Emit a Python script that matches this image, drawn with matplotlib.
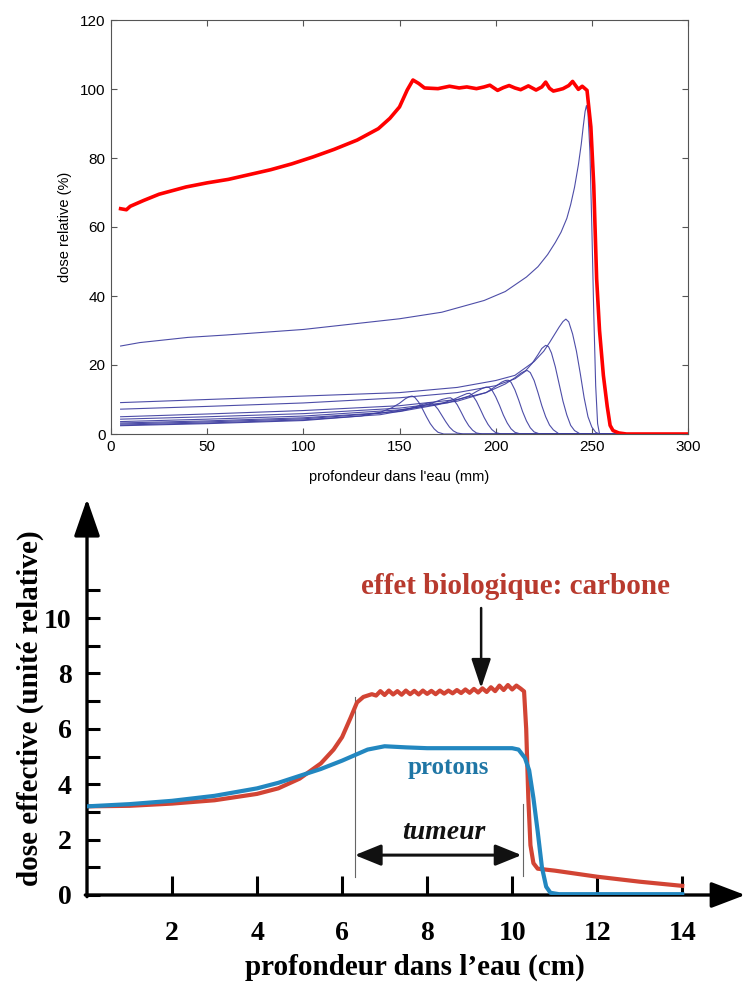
import numpy as np
import matplotlib.pyplot as plt

# ---- donnees : graphe du haut (SOBP protons, mm / %) ----
sobp_x = [5, 8, 10, 17, 25, 39, 50, 61, 72, 83, 94, 105, 116, 128, 139, 145, 150, 154, 157, 160, 163,
          170, 176, 181, 185, 190, 194, 197, 201, 204, 207, 210, 213, 217, 221, 224, 226, 228, 230,
          233, 235, 238, 240, 243, 245, 247.5, 249.5, 251, 252.5, 254, 256, 258, 259.5, 261, 264, 268, 300]
sobp_y = [65.3, 65.0, 66.0, 67.7, 69.5, 71.6, 72.8, 73.8, 75.2, 76.6, 78.3, 80.3, 82.5, 85.2, 88.5, 91.5,
          94.8, 99.7, 102.6, 101.6, 100.3, 100.1, 100.8, 100.3, 100.6, 100.1, 100.6, 101.1, 99.6, 100.4,
          101.0, 100.3, 99.8, 100.9, 99.7, 100.6, 102.0, 100.2, 99.4, 99.8, 100.1, 101.0, 102.2, 99.9,
          100.8, 99.6, 89.0, 72.0, 45.0, 30.0, 17.0, 8.0, 2.5, 1.0, 0.3, 0.0, 0.0]

# pics de Bragg individuels (profondeur, dose)
bragg_x = [
    [5, 15, 40, 60, 100, 150, 172, 194, 205, 216, 222, 227, 231, 234, 237, 239, 241, 243, 244.5,
     245.5, 246.5, 247.2, 248, 249, 250, 251, 252, 253, 254, 300],
    [5, 50, 100, 150, 180, 200, 210, 220, 225, 228, 231, 233, 235, 236.5, 238, 240, 242, 244, 246,
     248, 250, 252, 254, 300],
    [5, 50, 100, 150, 180, 200, 210, 215, 219, 222, 224, 226, 227.5, 229, 231, 233, 235, 237, 239,
     241, 244, 300],
    [5, 50, 100, 150, 180, 195, 205, 210, 213, 215, 216.5, 218, 220, 222, 224, 226, 228, 230, 233, 300],
    [5, 50, 100, 150, 180, 195, 200, 203, 205, 206.5, 208, 210, 212, 214, 216, 218, 220, 223, 300],
    [5, 50, 100, 150, 175, 186, 190, 193, 195, 196.5, 198, 200, 202, 204, 206, 208, 210, 213, 300],
    [5, 50, 100, 150, 170, 178, 182, 185, 186.5, 188, 190, 192, 194, 196, 198, 200, 203, 300],
    [5, 50, 100, 140, 160, 168, 172, 175, 176.5, 178, 180, 182, 184, 186, 188, 190, 193, 300],
    [5, 50, 100, 140, 152, 158, 162, 165, 166.5, 168, 170, 172, 174, 176, 178, 180, 183, 300],
    [5, 50, 100, 130, 140, 146, 150, 153, 155, 156.5, 158, 160, 162, 164, 166, 168, 170, 173, 300],
]
bragg_y = [
    [25.5, 26.5, 28.0, 28.7, 30.3, 33.4, 35.3, 38.7, 41.3, 45.5, 48.5, 52.0, 55.5, 58.5, 62.5, 66.5,
     71.5, 78.0, 84.0, 89.0, 93.5, 95.2, 93.0, 82.0, 60.0, 35.0, 14.0, 3.0, 0.0, 0.0],
    [9.1, 10.0, 11.0, 12.0, 13.5, 15.5, 17.0, 21.0, 24.0, 26.5, 29.2, 31.0, 32.6, 33.3, 32.5, 29.0,
     24.0, 17.5, 10.5, 5.0, 2.0, 0.5, 0.0, 0.0],
    [7.2, 8.0, 9.0, 10.5, 12.0, 14.0, 16.0, 18.0, 20.5, 23.0, 24.8, 25.7, 25.3, 23.5, 19.5, 14.5,
     9.5, 5.5, 2.5, 1.0, 0.0, 0.0],
    [5.0, 5.8, 6.8, 8.2, 10.0, 12.0, 14.5, 16.3, 17.6, 18.2, 18.4, 17.8, 15.5, 12.0, 8.2, 5.0, 2.6,
     1.2, 0.0, 0.0],
    [4.3, 5.0, 5.9, 7.5, 9.5, 12.0, 13.8, 15.0, 15.5, 15.6, 15.0, 12.8, 9.8, 6.5, 3.8, 1.8, 0.6,
     0.0, 0.0],
    [3.6, 4.3, 5.2, 7.0, 9.0, 11.0, 12.3, 13.2, 13.6, 13.5, 12.8, 10.8, 8.3, 5.5, 3.2, 1.5, 0.5,
     0.0, 0.0],
    [3.2, 3.8, 4.7, 6.5, 8.5, 10.0, 11.0, 11.7, 11.8, 11.2, 9.5, 7.2, 4.8, 2.8, 1.3, 0.4, 0.0, 0.0],
    [2.9, 3.5, 4.4, 6.0, 7.8, 9.2, 10.0, 10.4, 10.5, 10.0, 8.5, 6.4, 4.2, 2.4, 1.1, 0.3, 0.0, 0.0],
    [2.6, 3.2, 4.1, 5.6, 6.8, 7.8, 8.6, 9.0, 9.0, 8.5, 7.2, 5.4, 3.6, 2.0, 0.9, 0.3, 0.0, 0.0],
    [2.4, 3.0, 3.9, 5.2, 6.3, 7.6, 8.9, 10.2, 10.8, 11.0, 10.6, 9.2, 7.2, 5.0, 3.0, 1.5, 0.5, 0.0, 0.0],
]

# ---- donnees : graphe du bas (dose effective, cm) ----
carbone_x = [0, 1, 2, 3, 4, 4.5, 5, 5.5, 5.8, 6.0, 6.2, 6.35, 6.5, 6.7,
             6.8, 6.9, 7.0, 7.1, 7.2, 7.3, 7.4, 7.5, 7.6, 7.7, 7.8, 7.9, 8.0, 8.1, 8.2, 8.3,
             8.4, 8.5, 8.6, 8.7, 8.8, 8.9, 9.0, 9.1, 9.2, 9.3, 9.4, 9.5, 9.6, 9.7, 9.8, 9.9,
             10.0, 10.1, 10.2, 10.28, 10.33, 10.38, 10.43, 10.5, 10.6, 11, 12, 13, 14]
carbone_y = [3.2, 3.22, 3.3, 3.42, 3.65, 3.85, 4.2, 4.75, 5.25, 5.7, 6.4, 6.95, 7.15, 7.25,
             7.2, 7.36, 7.22, 7.38, 7.24, 7.36, 7.23, 7.38, 7.25, 7.37, 7.24, 7.38, 7.26, 7.37, 7.25, 7.38,
             7.27, 7.38, 7.28, 7.4, 7.29, 7.42, 7.3, 7.44, 7.31, 7.46, 7.33, 7.5, 7.36, 7.56, 7.4, 7.58,
             7.42, 7.56, 7.45, 7.35, 6.0, 3.5, 1.8, 1.15, 0.95, 0.88, 0.66, 0.48, 0.33]
protons_x = [0, 1, 2, 3, 4, 4.5, 5, 5.5, 6, 6.3, 6.6, 7, 7.5, 8, 9, 10, 10.15, 10.3, 10.4,
             10.5, 10.6, 10.7, 10.8, 10.9, 11.1, 14]
protons_y = [3.2, 3.28, 3.4, 3.58, 3.85, 4.05, 4.3, 4.55, 4.85, 5.05, 5.25, 5.37, 5.33, 5.3, 5.3,
             5.3, 5.25, 4.95, 4.5, 3.5, 2.3, 1.0, 0.3, 0.08, 0.03, 0.03]

fig = plt.figure(figsize=(7.46, 9.85), dpi=100)

# ----------------- graphe du haut -----------------
ax1 = fig.add_axes([111 / 746, 1 - 434 / 985, 577 / 746, 414 / 985])
for bx, by in zip(bragg_x, bragg_y):
    ax1.plot(bx, by, color='#3a3a9e', lw=0.8, alpha=0.9)
ax1.plot(sobp_x, sobp_y, color='#ff0000', lw=2.6)
ax1.set_xlim(0, 300)
ax1.set_ylim(0, 120)
ax1.set_xticks(range(0, 301, 50))
ax1.set_yticks(range(0, 121, 20))
ax1.tick_params(direction='in', top=True, right=True, length=4, width=0.8,
                labelsize=11, color='#555555', pad=4)
for lab in ax1.get_xticklabels() + ax1.get_yticklabels():
    lab.set_family('Liberation Sans')
for s in ax1.spines.values():
    s.set_color('#555555')
    s.set_linewidth(0.8)
ax1.set_xlabel("profondeur dans l'eau (mm)", family='Liberation Sans', fontsize=10.5, labelpad=12)
ax1.set_ylabel('dose relative (%)', family='Liberation Sans', fontsize=10.5, labelpad=6)

# ----------------- graphe du bas -----------------
serif = 'Liberation Serif'
ax2 = fig.add_axes([87 / 746, 1 - 895 / 985, (746 - 87) / 746, 395 / 985])
ax2.set_xlim(0, 15.5)
ax2.set_ylim(0, 14.26)
for s in ax2.spines.values():
    s.set_visible(False)

ax2.plot(carbone_x, carbone_y, color='#d24434', lw=3.0, zorder=3)
ax2.plot(protons_x, protons_y, color='#2287c0', lw=3.0, zorder=4)

# axes fleches
ax2.annotate('', xy=(0, 14.3), xytext=(0, -0.06), annotation_clip=False,
             arrowprops=dict(arrowstyle='-|>,head_length=2.3,head_width=0.8', lw=2.4,
                             color='black', shrinkA=0, shrinkB=0))
ax2.annotate('', xy=(15.48, 0), xytext=(-0.04, 0), annotation_clip=False,
             arrowprops=dict(arrowstyle='-|>,head_length=2.1,head_width=0.8', lw=2.4,
                             color='black', shrinkA=0, shrinkB=0))

ax2.set_yticks(range(0, 12))
ax2.set_yticklabels([str(v) if v % 2 == 0 else '' for v in range(0, 12)])
ax2.set_xticks(range(2, 15, 2))
ax2.tick_params(axis='y', direction='in', length=9.5, width=2.2, pad=11, labelsize=20)
ax2.tick_params(axis='x', direction='in', length=14, width=2.2, pad=19, labelsize=20)
for lab in ax2.get_xticklabels() + ax2.get_yticklabels():
    lab.set_family(serif)
    lab.set_weight('bold')

# limites de la tumeur
ax2.plot([6.3, 6.3], [0.65, 7.15], color='#666666', lw=0.8, zorder=2)
ax2.plot([10.25, 10.25], [0.7, 3.3], color='#666666', lw=0.8, zorder=2)
ax2.annotate('', xy=(6.3, 1.44), xytext=(10.22, 1.44),
             arrowprops=dict(arrowstyle='<|-|>,head_length=1.6,head_width=0.65', lw=2.2,
                             color='#111111', shrinkA=0, shrinkB=0))
ax2.text(8.38, 2.24, 'tumeur', family=serif, weight='bold', style='italic',
         fontsize=20, ha='center', va='center', color='#111111')

ax2.text(10.08, 11.12, 'effet biologique: carbone', family=serif, weight='bold',
         fontsize=21, ha='center', va='center', color='#b83a2e')
ax2.annotate('', xy=(9.27, 7.47), xytext=(9.27, 10.36),
             arrowprops=dict(arrowstyle='-|>,head_length=1.8,head_width=0.6', lw=1.8,
                             color='#111111', shrinkA=0, shrinkB=0))
ax2.text(8.49, 4.62, 'protons', family=serif, weight='bold', fontsize=18,
         ha='center', va='center', color='#1f76a5')

fig.text(30 / 746, 1 - 708 / 985, 'dose effective (unité relative)', family=serif,
         weight='bold', fontsize=21, rotation=90, ha='center', va='center')
fig.text(415 / 746, 1 - 967 / 985, 'profondeur dans l\u2019eau (cm)', family=serif,
         weight='bold', fontsize=21, ha='center', va='center')

fig.savefig('out.png', dpi=100)
